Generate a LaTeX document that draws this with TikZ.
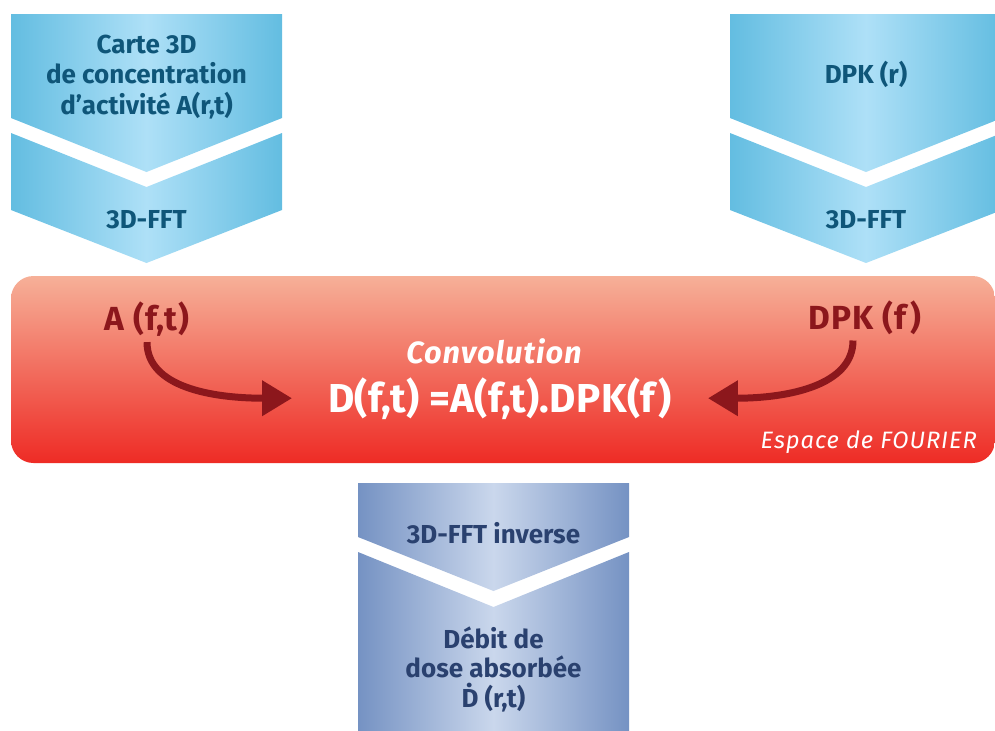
\documentclass[tikz,border=0pt]{standalone}
\usepackage{fontspec}
\setmainfont{Fira Sans}
\usetikzlibrary{arrows.meta}
\definecolor{chevedge}{HTML}{63BDE1}
\definecolor{chevmid}{HTML}{AEE0F7}
\definecolor{chevtext}{HTML}{0F5679}
\definecolor{invedge}{HTML}{7592C3}
\definecolor{invmid}{HTML}{CAD7EC}
\definecolor{invtext}{HTML}{2A416F}
\definecolor{boxtop}{HTML}{F6B098}
\definecolor{boxbottom}{HTML}{EE2B25}
\definecolor{darkred}{HTML}{8C171C}

\begin{document}
\begin{tikzpicture}[x=0.02cm,y=-0.02cm,
	blueshade/.style={left color=chevedge,right color=chevedge,middle color=chevmid},
	invshade/.style={left color=invedge,right color=invedge,middle color=invmid},
	bluetext/.style={anchor=base,align=center,text=chevtext,font=\fontsize{14.8}{17.6}\selectfont\bfseries},
	invtext/.style={anchor=base,align=center,text=invtext,font=\fontsize{14.8}{16.8}\selectfont\bfseries},
	fourier/.style={anchor=base,text=darkred,font=\fontsize{19}{22}\selectfont\bfseries\addfontfeatures{LetterSpace=3}},
	redarrow/.style={draw=darkred,line width=0.14cm,-{Triangle[length=0.6cm,width=0.68cm]}}]
	
	\useasboundingbox (0,0) rectangle (995,731);
	
	\shade[blueshade] (11,14) -- (282,14) -- (282,118) -- (146.5,172) -- (11,118) -- cycle;
	\shade[blueshade] (11,133) -- (146.5,187) -- (282,133) -- (282,210) -- (146.5,263) -- (11,210) -- cycle;
	\shade[blueshade] (730,14) -- (1002,14) -- (1002,118) -- (866,172) -- (730,118) -- cycle;
	\shade[blueshade] (730,133) -- (866,187) -- (1002,133) -- (1002,210) -- (866,263) -- (730,210) -- cycle;
	
	\shade[top color=boxtop,bottom color=boxbottom,rounded corners=0.45cm] (11,276) rectangle (995,463);
	
	\shade[invshade] (358,483) -- (629,483) -- (629,537) -- (493.5,591) -- (358,537) -- cycle;
	\shade[invshade] (358,552) -- (493.5,607) -- (629,552) -- (629,740) -- (358,740) -- cycle;
	
	\node[bluetext,anchor=center] (carte) at (146.5,77) {Carte 3D\\de concentration\\d’activité A(r,t)};
	\node[bluetext] (fftA) at (146.5,228) {3D-FFT};
	\node[bluetext] (dpkr) at (866,83) {DPK (r)};
	\node[bluetext] (fftB) at (866,228) {3D-FFT};
	
	\node[fourier] (aft) at (147,330) {A (f,t)};
	\node[fourier] (dpkf) at (865,329) {DPK (f)};
	\node[anchor=base,text=white,font=\fontsize{17.5}{20}\selectfont\bfseries\itshape\addfontfeatures{LetterSpace=3}] (conv) at (494,363) {Convolution};
	\node[anchor=base,text=white,font=\fontsize{23}{26}\selectfont\bfseries\addfontfeatures{LetterSpace=1}] (eq) at (500,412) {D(f,t) =A(f,t).DPK(f)};
	\node[anchor=base east,text=white,font=\fontsize{13.5}{15}\selectfont\itshape\addfontfeatures{LetterSpace=4}] (espace) at (983,448) {Espace de FOURIER};
	
	\draw[redarrow] (aft.south) .. controls +(0,45) and +(-80,0) .. ([xshift=-0.6cm]eq.west);
	\draw[redarrow] ([xshift=-0.24cm]dpkf.south) .. controls +(0,45) and +(80,0) .. ([xshift=0.6cm]eq.east);
	
	\node[invtext] (fftinv) at (493.5,543) {3D-FFT inverse};
	\node[invtext,anchor=center] (debit) at (493.5,669) {Débit de\\dose absorbée\\\.{D} (r,t)};
\end{tikzpicture}
\end{document}
